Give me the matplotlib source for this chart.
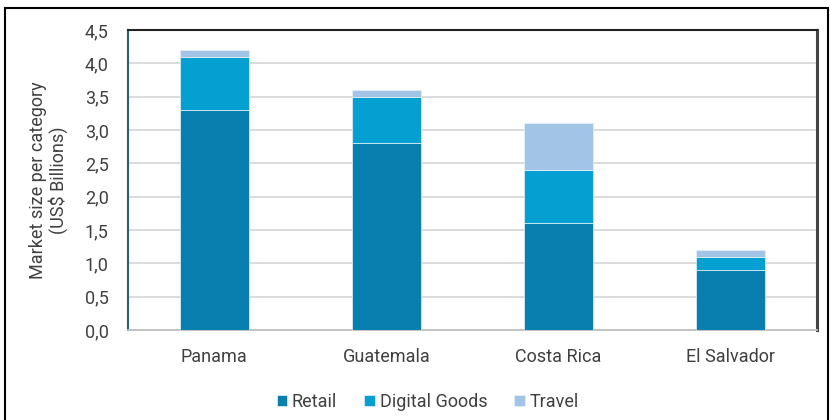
import matplotlib
matplotlib.use("Agg")
import matplotlib.pyplot as plt
import matplotlib.patches as mpatches
import numpy as np

plt.rcParams["font.family"] = ["Roboto", "DejaVu Sans"]

countries = ["Panama", "Guatemala", "Costa Rica", "El Salvador"]
series = ["Retail", "Digital Goods", "Travel"]
retail = [3.3, 2.8, 1.6, 0.9]
digital = [0.8, 0.7, 0.8, 0.2]
travel = [0.1, 0.1, 0.7, 0.1]
yticks = [0.0, 0.5, 1.0, 1.5, 2.0, 2.5, 3.0, 3.5, 4.0, 4.5]

COLORS = ["#087fae", "#059fd2", "#a2c5e7"]
TXT = "#404040"

fig = plt.figure(figsize=(8.3, 4.2), dpi=100, facecolor="white")
ax = fig.add_axes([128/830, 90/420, 689/830, 300/420])

x = np.arange(len(countries))
bottom = np.zeros(len(countries))
for vals, col, name in zip([retail, digital, travel], COLORS, series):
    ax.bar(x, vals, width=0.4, bottom=bottom, color=col, label=name,
           edgecolor="#e8f3fa", linewidth=0.5, zorder=3)
    bottom += np.array(vals)

ax.set_xlim(-0.5, 3.5)
ax.set_ylim(0, 4.5)
ax.set_yticks(yticks)
ax.set_yticklabels([f"{v:.1f}".replace(".", ",") for v in yticks],
                   fontsize=13, color=TXT)
ax.set_xticks(x)
ax.set_xticklabels(countries, fontsize=13, color=TXT)
ax.tick_params(axis="y", length=0, pad=14)
ax.tick_params(axis="x", length=0, pad=13)
ax.grid(axis="y", color="#d9d9d9", linewidth=1.3, zorder=0)

ax.spines["left"].set_color("#2a5d78")
ax.spines["left"].set_linewidth(1.5)
ax.spines["top"].set_color("#222222")
ax.spines["top"].set_linewidth(1.5)
ax.spines["right"].set_color("#444444")
ax.spines["right"].set_linewidth(2.2)
ax.spines["bottom"].set_color("#bfbfbf")
ax.spines["bottom"].set_linewidth(1.3)

ax.set_ylabel("Market size per category\n(US$ Billions)", fontsize=13,
              color=TXT, labelpad=12, linespacing=1.05)

ax.legend(loc="upper center", bbox_to_anchor=(0.435, -0.155), ncol=3,
          frameon=False, fontsize=13, handlelength=0.6, handleheight=0.6,
          handletextpad=0.25, columnspacing=1.5, labelcolor=TXT)

# outer frame of the screenshot
fig.add_artist(mpatches.Rectangle((5/830, -0.05), 823/830, 1.05 - 8/420,
                                  transform=fig.transFigure, fill=False,
                                  edgecolor="black", linewidth=1.5))

fig.savefig("out.png", dpi=100)
